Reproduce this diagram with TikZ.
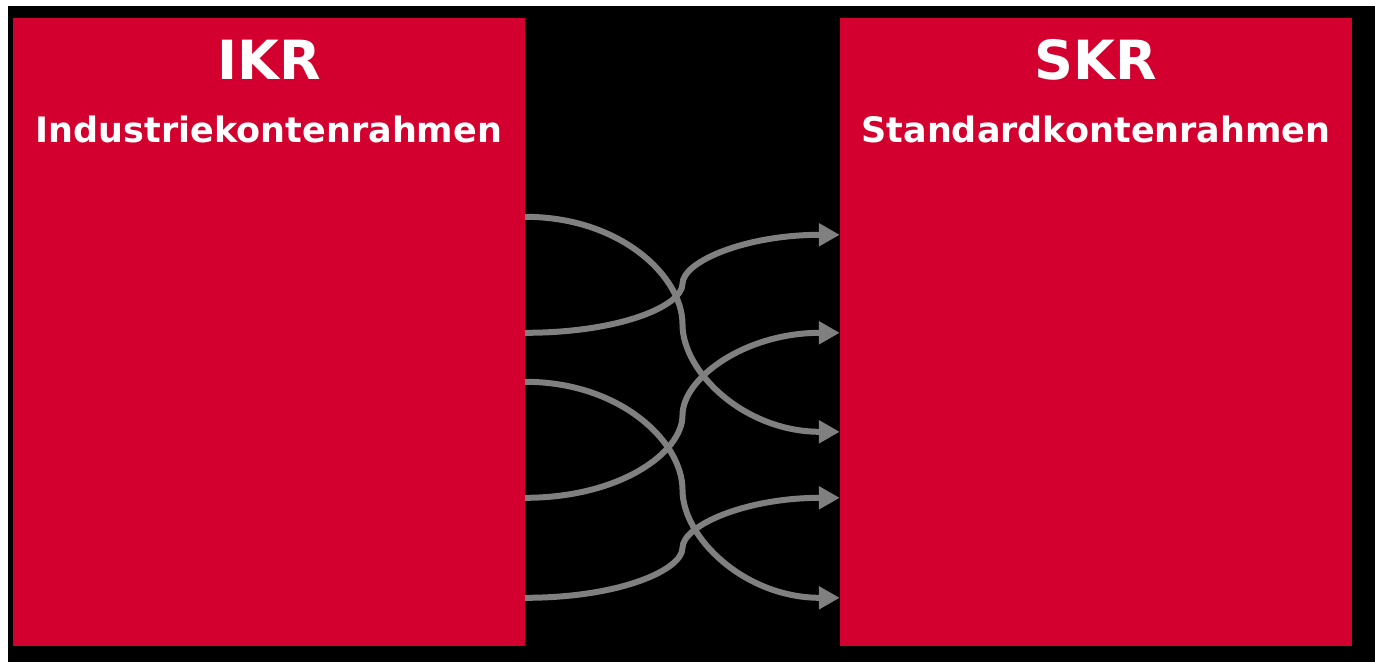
\documentclass[tikz,border=0pt]{standalone}
\usepackage{fontspec}
\setmainfont{DejaVu Sans}
\usetikzlibrary{arrows.meta,calc,positioning}

\definecolor{kontrot}{HTML}{D3002F}
\definecolor{pfeilgrau}{HTML}{808080}

\tikzset{
    rahmen/.style={fill=kontrot, draw=none, minimum width=512pt, minimum height=628pt, inner sep=0pt},
    kuerzel/.style={text=white, font=\fontsize{54}{64}\selectfont\bfseries, anchor=base, inner sep=0pt},
    langname/.style={text=white, font=\fontsize{35}{42}\selectfont\bfseries, anchor=base, inner sep=0pt},
    zuordnung/.style={draw=pfeilgrau, line width=6pt, -{Triangle[length=21pt,width=22pt]}}
}

\begin{document}
\begin{tikzpicture}[x=1pt,y=-1pt]
\useasboundingbox (0,0) rectangle (1375,662);
\fill[white] (0,0) rectangle (1375,662);
\fill[black] (8,6) rectangle (1375,662);

% die beiden Kontenrahmen
\node[rahmen] (ikr) at (269,332) {};
\node[rahmen] (skr) at (1096,332) {};

\node[kuerzel] (ikrkurz) at ($(ikr.north)+(0,62)$) {IKR};
\node[langname] (ikrlang) at ($(ikr.north)+(0,125)$) {Industriekontenrahmen};
\node[kuerzel] (skrkurz) at ($(skr.north)+(0,62)$) {SKR};
\node[langname] (skrlang) at ($(skr.north)+(0,125)$) {Standardkontenrahmen};

% Anschlusspunkte links und rechts
\coordinate (l1) at ($(ikr.north east)+(0,199)$);
\coordinate (l2) at ($(ikr.north east)+(0,315)$);
\coordinate (l3) at ($(ikr.north east)+(0,364)$);
\coordinate (l4) at ($(ikr.north east)+(0,480)$);
\coordinate (l5) at ($(ikr.north east)+(0,580)$);
\coordinate (r1) at ($(skr.north west)+(0,217)$);
\coordinate (r2) at ($(skr.north west)+(0,315)$);
\coordinate (r3) at ($(skr.north west)+(0,414)$);
\coordinate (r4) at ($(skr.north west)+(0,480)$);
\coordinate (r5) at ($(skr.north west)+(0,580)$);

\draw[zuordnung] (l1) .. controls +(95,0) and +(0,-48) .. ($(l1)!0.5!(r3)$) .. controls +(0,48) and +(-95,0) .. (r3);
\draw[zuordnung] (l2) .. controls +(95,0) and +(0,22) .. ($(l2)!0.5!(r1)$) .. controls +(0,-22) and +(-95,0) .. (r1);
\draw[zuordnung] (l3) .. controls +(95,0) and +(0,-48) .. ($(l3)!0.5!(r5)$) .. controls +(0,48) and +(-95,0) .. (r5);
\draw[zuordnung] (l4) .. controls +(95,0) and +(0,37) .. ($(l4)!0.5!(r2)$) .. controls +(0,-37) and +(-95,0) .. (r2);
\draw[zuordnung] (l5) .. controls +(95,0) and +(0,22) .. ($(l5)!0.5!(r4)$) .. controls +(0,-22) and +(-95,0) .. (r4);
\end{tikzpicture}
\end{document}
